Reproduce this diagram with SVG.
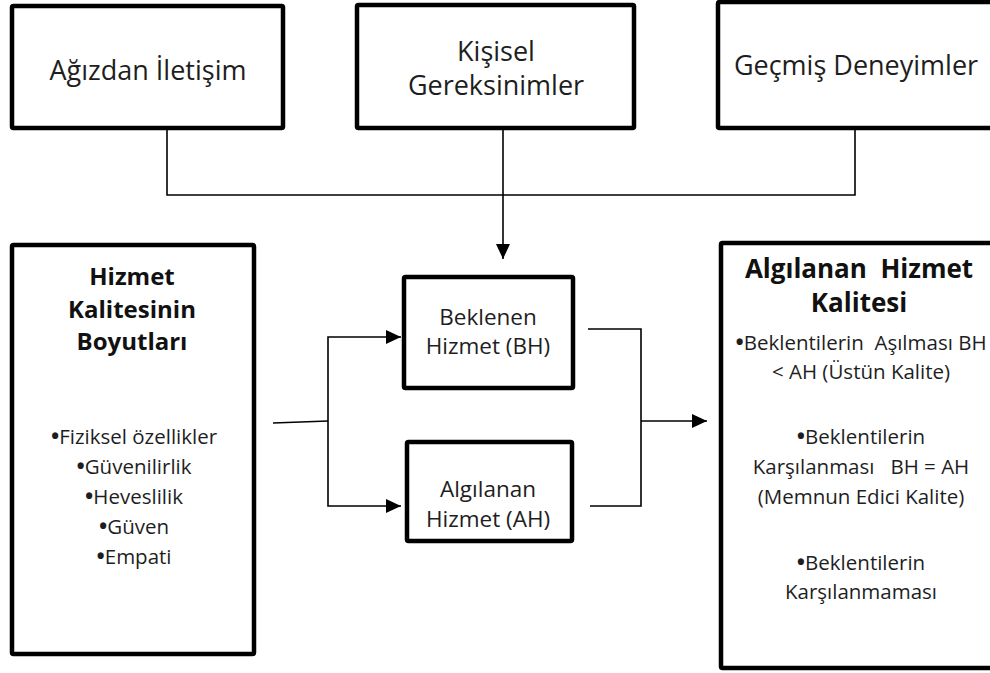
<svg xmlns="http://www.w3.org/2000/svg" width="990" height="673" viewBox="0 0 990 673">
<defs>
<marker id="arr" markerWidth="15" markerHeight="14" refX="15" refY="7" orient="auto" markerUnits="userSpaceOnUse">
<path d="M0,0 L15,7 L0,14 Z" fill="#000"/>
</marker>
<style>
.box{fill:#fff;stroke:#000;stroke-width:4.5;}
.t{font-family:"Open Sans","Noto Sans",sans-serif;fill:#1e1e1e;text-anchor:middle;}
.top{font-size:27px;}
.mid{font-size:22.5px;}
.body{font-size:20.5px;}
.h{font-size:26px;font-weight:bold;fill:#111;}
.hl{font-size:24px;}
.b{font-weight:bold;font-size:22px;}
.c{fill:none;stroke:#000;stroke-width:1.6;}
</style>
</defs>
<rect width="990" height="673" fill="#fff"/>
<g id="connectors">
<polyline class="c" points="167,128 167,195 855,195 855,128"/>
<line class="c" x1="503" y1="128" x2="503" y2="259" marker-end="url(#arr)"/>
<polyline class="c" points="273,423 328,421"/>
<polyline class="c" points="328,421 328,337 401,337" marker-end="url(#arr)"/>
<polyline class="c" points="328,421 328,506 401,506" marker-end="url(#arr)"/>
<polyline class="c" points="588,329 641,329 641,506 590,506"/>
<line class="c" x1="641" y1="421" x2="707" y2="421" marker-end="url(#arr)"/>
</g>
<g id="agizdan">
<rect class="box" x="12" y="6" width="271" height="122" rx="1.5"/>
<text class="t top" x="148" y="80">Ağızdan İletişim</text>
</g>
<g id="kisisel">
<rect class="box" x="357" y="5" width="277" height="123" rx="1.5"/>
<text class="t top" x="496" y="61">Kişisel</text>
<text class="t top" x="496" y="95">Gereksinimler</text>
</g>
<g id="gecmis">
<rect class="box" x="718" y="2" width="290" height="126" rx="1.5"/>
<text class="t top" x="856" y="75">Geçmiş Deneyimler</text>
</g>
<g id="boyutlar">
<rect class="box" x="12" y="245" width="242" height="409" rx="1.5"/>
<text class="t h hl" x="132" y="285">Hizmet</text>
<text class="t h hl" x="132" y="318">Kalitesinin</text>
<text class="t h hl" x="132" y="350">Boyutları</text>
<text class="t body" x="134" y="444"><tspan class="b">•</tspan>Fiziksel özellikler</text>
<text class="t body" x="134" y="474"><tspan class="b">•</tspan>Güvenilirlik</text>
<text class="t body" x="134" y="504"><tspan class="b">•</tspan>Heveslilik</text>
<text class="t body" x="134" y="534"><tspan class="b">•</tspan>Güven</text>
<text class="t body" x="134" y="564"><tspan class="b">•</tspan>Empati</text>
</g>
<g id="beklenen">
<rect class="box" x="404" y="277" width="169" height="111" rx="1.5"/>
<text class="t mid" x="488" y="325">Beklenen</text>
<text class="t mid" x="488" y="354">Hizmet (BH)</text>
</g>
<g id="algilanan">
<rect class="box" x="407" y="442" width="165" height="99" rx="1.5"/>
<text class="t mid" x="488" y="497">Algılanan</text>
<text class="t mid" x="488" y="527">Hizmet (AH)</text>
</g>
<g id="kalite">
<rect class="box" x="721" y="243" width="290" height="425" rx="1.5"/>
<text class="t h" x="859" y="278" xml:space="preserve">Algılanan  Hizmet</text>
<text class="t h" x="859" y="312">Kalitesi</text>
<text class="t body" x="861" y="350" xml:space="preserve"><tspan class="b">•</tspan>Beklentilerin  Aşılması BH</text>
<text class="t body" x="861" y="379">&lt; AH (Üstün Kalite)</text>
<text class="t body" x="861" y="444"><tspan class="b">•</tspan>Beklentilerin</text>
<text class="t body" x="861" y="474" xml:space="preserve">Karşılanması   BH = AH</text>
<text class="t body" x="861" y="504">(Memnun Edici Kalite)</text>
<text class="t body" x="861" y="570"><tspan class="b">•</tspan>Beklentilerin</text>
<text class="t body" x="861" y="599">Karşılanmaması</text>
</g>
</svg>
